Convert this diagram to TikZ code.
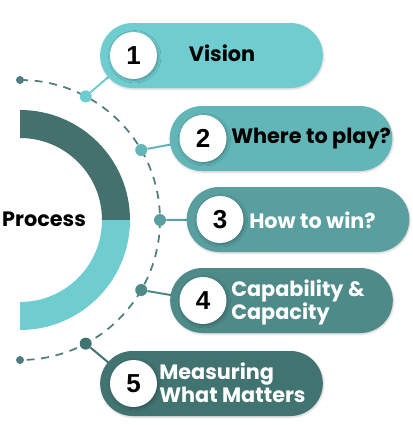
\documentclass[tikz,border=0pt]{standalone}
\usepackage{fontspec}
\setmainfont{Poppins}
\newfontfamily\numfont{Liberation Sans}
\usetikzlibrary{shapes.misc, shadows.blur, positioning}

\definecolor{tealA}{RGB}{111,205,208}
\definecolor{tealB}{RGB}{98,182,184}
\definecolor{tealC}{RGB}{89,159,159}
\definecolor{tealD}{RGB}{78,138,136}
\definecolor{tealE}{RGB}{65,115,112}
\definecolor{ringdark}{RGB}{68,113,110}
\definecolor{dashcol}{RGB}{79,126,125}

\tikzset{
  pill/.style={rounded rectangle, minimum width=167pt, minimum height=48.75pt, inner sep=0pt,
    blur shadow={shadow xshift=0.5pt, shadow yshift=-0.8pt, shadow blur radius=1.5pt, shadow opacity=20}},
  numdisc/.style={circle, fill=white, minimum size=35.25pt, inner sep=0pt,
    font=\numfont\bfseries\fontsize{19.5}{19.5}\selectfont,
    blur shadow={shadow xshift=1pt, shadow yshift=-1pt, shadow blur radius=2pt, shadow opacity=30}},
  stepdot/.style={circle, minimum size=9pt, inner sep=0pt},
  enddot/.style={circle, fill=dashcol, minimum size=6pt, inner sep=0pt},
  steptext/.style={inner sep=0pt, align=left, font=\bfseries\fontsize{15.6}{17.2}\selectfont},
}

\begin{document}
\begin{tikzpicture}[x=0.75pt,y=0.75pt,yscale=-1,xscale=1]
\path (0,0) rectangle (413,425);

%Half ring
\fill [ringdark] (20,110) arc [start angle=-90, end angle=0, radius=110] -- (102,220) arc [start angle=0, end angle=-90, radius=82] -- cycle;
\fill [tealA] (130,220) arc [start angle=0, end angle=90, radius=110] -- (20,302) arc [start angle=90, end angle=0, radius=82] -- cycle;

%Dashed arc
\draw [dashcol, line width=1.3pt, dash pattern=on 6pt off 5pt] (20,80) arc [start angle=-90, end angle=90, radius=140];
\node [enddot] (top) at (20,80) {};
\node [enddot] (bottom) at (20,360) {};

%Dots on the arc
\node [stepdot, fill=tealA] (d1) at (85.73,96.39) {};
\node [stepdot, fill=tealB] (d2) at (141.24,150) {};
\node [stepdot, fill=tealC] (d3) at (160,220) {};
\node [stepdot, fill=tealD] (d4) at (141.24,290) {};
\node [stepdot, fill=tealE] (d5) at (85.73,343.61) {};

\coordinate (c1) at (133.5,55.5);
\coordinate (c2) at (203,138.5);
\coordinate (c3) at (220,219.5);
\coordinate (c4) at (203,300.5);
\coordinate (c5) at (133.5,383.5);

%Straight Lines
\draw [tealA, line width=1.5pt] (d1) -- (c1);
\draw [tealB, line width=1.5pt] (d2) -- (c2);
\draw [tealC, line width=1.5pt] (d3) -- (c3);
\draw [tealD, line width=1.5pt] (d4) -- (c4);
\draw [tealE, line width=1.5pt] (d5) -- (c5);

%Pills
\node [pill, fill=tealA] (p1) at (211.5,55.5) {};
\node [pill, fill=tealB] (p2) at (281,138.5) {};
\node [pill, fill=tealC] (p3) at (298,219.5) {};
\node [pill, fill=tealD] (p4) at (281.5,300.5) {};
\node [pill, fill=tealE] (p5) at (211.5,383.5) {};

%Number discs
\node [numdisc] (n1) at (c1) {1};
\node [numdisc] (n2) at (c2) {2};
\node [numdisc] (n3) at (c3) {3};
\node [numdisc] (n4) at (c4) {4};
\node [numdisc] (n5) at (c5) {5};

% Text Node
\node [steptext] (t1) at (222,53) {Vision};
% Text Node
\node [steptext, anchor=west] (t2) at (231,139) {Where to play?};
% Text Node
\node [steptext, anchor=west, text=white] (t3) at (249,220) {How to win?};
% Text Node
\node [steptext, anchor=west, text=white] (t4) at (231,302) {Capability \&\\Capacity};
% Text Node
\node [steptext, anchor=west, text=white] (t5) at (159,383) {Measuring\\What Matters};
% Text Node
\node [steptext] (proc) at (44,219) {Process};

\end{tikzpicture}
\end{document}
